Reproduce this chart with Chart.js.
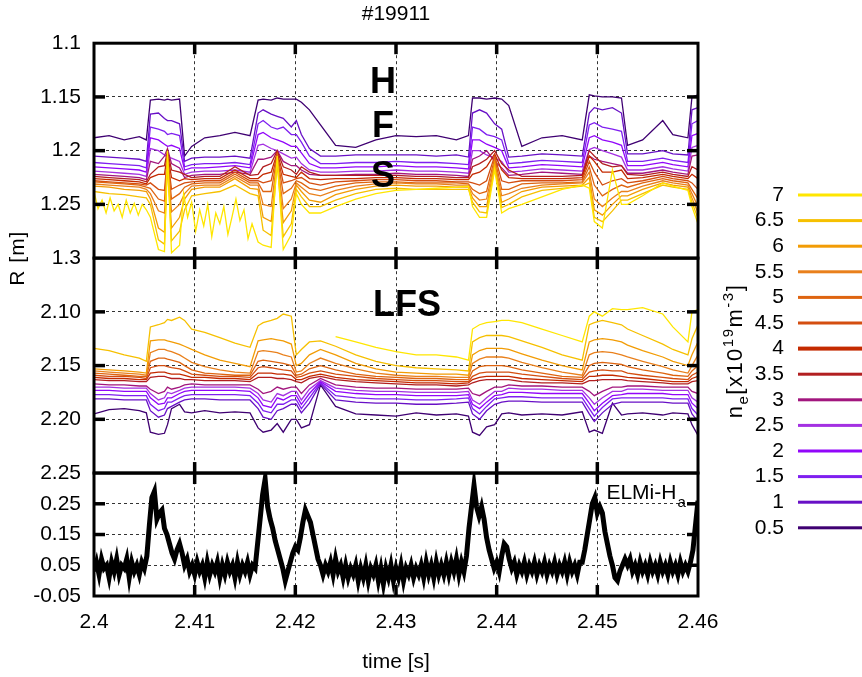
<!DOCTYPE html>
<html lang="en">
<head>
<meta charset="UTF-8">
<title>#19911</title>
<style>
  html, body { margin: 0; background: #fff; }
  .chart-container { position: relative; width: 862px; height: 677px; }
</style>
</head>
<body>
<script src="https://cdn.jsdelivr.net/npm/chart.js@4.4.1/dist/chart.umd.min.js"></script>
<div class="chart-container"><canvas id="profiles"></canvas></div>
<script>
const FONT = "'Liberation Sans', Arial, Helvetica, sans-serif";

// density layers n_e [x10^19 m^-3], listed as in the key (highest first)
const levels = ['7', '6.5', '6', '5.5', '5', '4.5', '4', '3.5', '3', '2.5', '2', '1.5', '1', '0.5'];
const levelColors = ['#ffe600', '#f6c000', '#f29c05', '#e9801c', '#de6410', '#d44e10', '#c42a00',
                     '#b21f20', '#a2167e', '#a431e2', '#9206fa', '#7f1ff0', '#6810c6', '#3f0072'];

const xTicks = [2.4, 2.41, 2.42, 2.43, 2.44, 2.45, 2.46];
const hfsTicks = [1.1, 1.15, 1.2, 1.25, 1.3];
const lfsTicks = [2.05, 2.1, 2.15, 2.2, 2.25];
const elmTicks = [-0.05, 0.05, 0.15, 0.25, 0.35];

// profile sample times [s]
const time = [2.4000, 2.4015, 2.4030, 2.4045, 2.4052,
              2.4056, 2.4064, 2.4070, 2.4073, 2.4077, 2.4085,
              2.4090, 2.4097, 2.4110, 2.4125, 2.4140, 2.4155,
              2.4163, 2.4168, 2.4176, 2.4182, 2.4188, 2.4196,
              2.4201, 2.4206, 2.4214,
              2.4225, 2.4240, 2.4260, 2.4280, 2.4300, 2.4320, 2.4340, 2.4360, 2.4372,
              2.4376, 2.4383, 2.4390, 2.4398, 2.4405,
              2.4412, 2.4425, 2.4445, 2.4465, 2.4485,
              2.4492, 2.4497, 2.4505, 2.4515, 2.4524,
              2.4530, 2.4545, 2.4565, 2.4575, 2.4590,
              2.4594, 2.4600];

// the noisy 7e19 HFS layer is sampled more finely in the quiet phases
const hfs7Time = [2.4000, 2.4004, 2.4008, 2.4012, 2.4016, 2.4020, 2.4024, 2.4028, 2.4032, 2.4036, 2.4040, 2.4044, 2.4048, 2.4052,
                  2.4056, 2.4064, 2.4070, 2.4073, 2.4077, 2.4085,
                  2.4089, 2.4093, 2.4097, 2.4101, 2.4105, 2.4109, 2.4113, 2.4117, 2.4121, 2.4125, 2.4129, 2.4133, 2.4137, 2.4141, 2.4145, 2.4149, 2.4153, 2.4157,
                  2.4163, 2.4168, 2.4176, 2.4182, 2.4188, 2.4196,
                  2.4201, 2.4206, 2.4214,
                  2.4225, 2.4240, 2.4260, 2.4280, 2.4300, 2.4320, 2.4340, 2.4360, 2.4372,
                  2.4376, 2.4383, 2.4390, 2.4398, 2.4405,
                  2.4412, 2.4425, 2.4445, 2.4465, 2.4485,
                  2.4492, 2.4497, 2.4505, 2.4515, 2.4524,
                  2.4530, 2.4545, 2.4565, 2.4575, 2.4590,
                  2.4594, 2.4600];

// HFS layer radius R [m]
const hfs_7   = [1.238, 1.254, 1.246, 1.258, 1.244, 1.256, 1.250, 1.262, 1.246, 1.258, 1.249, 1.260, 1.250, 1.255,
                 1.262, 1.292, 1.294, 1.200, 1.295, 1.288,
                 1.240, 1.262, 1.248, 1.275, 1.255, 1.270, 1.250, 1.280, 1.258, 1.268, 1.252, 1.278, 1.262, 1.245, 1.265, 1.255, 1.282, 1.268,
                 1.285, 1.288, 1.290, 1.205, 1.292, 1.278,
                 1.240, 1.250, 1.258,
                 1.258, 1.252, 1.245, 1.240, 1.237, 1.236, 1.235, 1.234, 1.233,
                 1.252, 1.262, 1.262, 1.218, 1.258,
                 1.254, 1.250, 1.243, 1.236, 1.232,
                 1.235, 1.266, 1.272, 1.218, 1.250,
                 1.250, 1.242, 1.230, 1.233, 1.237,
                 1.252, 1.268];
const hfs_6_5 = [1.238, 1.240, 1.241, 1.243, 1.244, 1.250, 1.283, 1.287, 1.212, 1.284, 1.275, 1.255, 1.242, 1.240, 1.238, 1.232, 1.240, 1.242, 1.274, 1.279, 1.212, 1.280, 1.268, 1.236, 1.243, 1.252,
                 1.252, 1.246, 1.240, 1.236, 1.235, 1.236, 1.236, 1.236, 1.236, 1.248, 1.257, 1.258, 1.215, 1.253, 1.250, 1.243, 1.237, 1.235, 1.233, 1.230, 1.262, 1.266, 1.256, 1.246, 1.246, 1.240, 1.232, 1.234, 1.236, 1.248, 1.263];
const hfs_6   = [1.233, 1.234, 1.236, 1.237, 1.238, 1.245, 1.272, 1.276, 1.210, 1.272, 1.262, 1.245, 1.236, 1.234, 1.234, 1.226, 1.235, 1.236, 1.262, 1.266, 1.210, 1.267, 1.256, 1.232, 1.238, 1.246,
                 1.248, 1.241, 1.236, 1.233, 1.232, 1.233, 1.233, 1.234, 1.234, 1.244, 1.252, 1.252, 1.212, 1.248, 1.245, 1.238, 1.234, 1.233, 1.232, 1.225, 1.255, 1.260, 1.250, 1.242, 1.242, 1.236, 1.230, 1.232, 1.234, 1.244, 1.258];
const hfs_5_5 = [1.231, 1.232, 1.233, 1.234, 1.236, 1.240, 1.256, 1.258, 1.208, 1.257, 1.250, 1.240, 1.233, 1.232, 1.232, 1.224, 1.232, 1.232, 1.250, 1.252, 1.207, 1.254, 1.245, 1.230, 1.234, 1.240,
                 1.242, 1.237, 1.233, 1.231, 1.230, 1.231, 1.231, 1.232, 1.232, 1.240, 1.246, 1.245, 1.210, 1.242, 1.240, 1.235, 1.232, 1.231, 1.230, 1.220, 1.245, 1.252, 1.244, 1.238, 1.238, 1.233, 1.228, 1.230, 1.232, 1.240, 1.252];
const hfs_5   = [1.229, 1.230, 1.231, 1.232, 1.234, 1.235, 1.245, 1.247, 1.205, 1.245, 1.240, 1.234, 1.231, 1.230, 1.230, 1.222, 1.230, 1.230, 1.238, 1.238, 1.205, 1.240, 1.235, 1.228, 1.230, 1.235,
                 1.237, 1.233, 1.230, 1.229, 1.229, 1.230, 1.230, 1.230, 1.231, 1.236, 1.240, 1.238, 1.207, 1.236, 1.236, 1.231, 1.230, 1.230, 1.229, 1.215, 1.232, 1.242, 1.236, 1.232, 1.234, 1.230, 1.226, 1.228, 1.230, 1.236, 1.245];
const hfs_4_5 = [1.228, 1.229, 1.230, 1.231, 1.232, 1.230, 1.236, 1.237, 1.205, 1.236, 1.232, 1.230, 1.229, 1.228, 1.228, 1.220, 1.228, 1.228, 1.230, 1.228, 1.203, 1.230, 1.228, 1.226, 1.225, 1.230,
                 1.232, 1.229, 1.228, 1.227, 1.227, 1.228, 1.228, 1.229, 1.229, 1.230, 1.232, 1.228, 1.205, 1.228, 1.230, 1.228, 1.228, 1.228, 1.227, 1.210, 1.220, 1.232, 1.228, 1.226, 1.230, 1.228, 1.224, 1.226, 1.228, 1.230, 1.236];
const hfs_4   = [1.226, 1.227, 1.228, 1.229, 1.231, 1.225, 1.222, 1.222, 1.203, 1.225, 1.228, 1.226, 1.227, 1.226, 1.226, 1.218, 1.226, 1.226, 1.222, 1.220, 1.202, 1.222, 1.224, 1.225, 1.220, 1.226,
                 1.227, 1.226, 1.226, 1.225, 1.225, 1.226, 1.226, 1.227, 1.227, 1.222, 1.220, 1.215, 1.203, 1.218, 1.225, 1.226, 1.226, 1.226, 1.225, 1.205, 1.210, 1.220, 1.220, 1.218, 1.226, 1.225, 1.222, 1.224, 1.226, 1.222, 1.226];
const hfs_3_5 = [1.224, 1.225, 1.226, 1.227, 1.229, 1.222, 1.215, 1.214, 1.200, 1.218, 1.220, 1.222, 1.225, 1.224, 1.224, 1.215, 1.223, 1.222, 1.215, 1.212, 1.200, 1.215, 1.218, 1.222, 1.215, 1.220,
                 1.223, 1.223, 1.223, 1.223, 1.223, 1.224, 1.224, 1.225, 1.225, 1.215, 1.212, 1.208, 1.200, 1.212, 1.218, 1.224, 1.224, 1.224, 1.223, 1.200, 1.205, 1.212, 1.215, 1.214, 1.222, 1.223, 1.220, 1.222, 1.224, 1.215, 1.218];
const hfs_3   = [1.222, 1.223, 1.224, 1.225, 1.227, 1.210, 1.212, 1.205, 1.198, 1.212, 1.216, 1.225, 1.223, 1.222, 1.222, 1.220, 1.222, 1.208, 1.208, 1.206, 1.200, 1.210, 1.214, 1.214, 1.218, 1.222,
                 1.223, 1.223, 1.222, 1.222, 1.221, 1.222, 1.222, 1.223, 1.224, 1.208, 1.205, 1.200, 1.210, 1.216, 1.223, 1.222, 1.220, 1.221, 1.222, 1.205, 1.208, 1.210, 1.212, 1.214, 1.221, 1.221, 1.218, 1.220, 1.222, 1.205, 1.204];
const hfs_2_5 = [1.219, 1.220, 1.221, 1.222, 1.224, 1.198, 1.200, 1.204, 1.206, 1.207, 1.210, 1.222, 1.220, 1.219, 1.219, 1.218, 1.220, 1.195, 1.194, 1.198, 1.200, 1.203, 1.207, 1.206, 1.212, 1.218,
                 1.220, 1.220, 1.219, 1.219, 1.218, 1.219, 1.219, 1.220, 1.221, 1.200, 1.200, 1.204, 1.207, 1.210, 1.220, 1.219, 1.217, 1.218, 1.219, 1.199, 1.197, 1.200, 1.203, 1.206, 1.218, 1.218, 1.215, 1.217, 1.219, 1.197, 1.195];
const hfs_2   = [1.215, 1.216, 1.217, 1.218, 1.220, 1.188, 1.190, 1.194, 1.196, 1.195, 1.198, 1.218, 1.216, 1.216, 1.215, 1.214, 1.216, 1.185, 1.183, 1.188, 1.190, 1.192, 1.196, 1.196, 1.202, 1.212,
                 1.216, 1.216, 1.215, 1.215, 1.214, 1.215, 1.215, 1.216, 1.217, 1.190, 1.190, 1.194, 1.197, 1.200, 1.216, 1.215, 1.213, 1.214, 1.215, 1.188, 1.186, 1.190, 1.192, 1.195, 1.214, 1.214, 1.211, 1.213, 1.215, 1.186, 1.184];
const hfs_1_5 = [1.211, 1.212, 1.213, 1.214, 1.216, 1.178, 1.180, 1.182, 1.185, 1.184, 1.186, 1.215, 1.213, 1.212, 1.212, 1.211, 1.213, 1.175, 1.172, 1.178, 1.180, 1.178, 1.185, 1.185, 1.192, 1.205,
                 1.212, 1.212, 1.211, 1.211, 1.210, 1.211, 1.211, 1.212, 1.213, 1.178, 1.180, 1.185, 1.187, 1.190, 1.212, 1.211, 1.209, 1.210, 1.211, 1.176, 1.174, 1.178, 1.180, 1.182, 1.210, 1.210, 1.207, 1.209, 1.211, 1.175, 1.172];
const hfs_1   = [1.205, 1.206, 1.207, 1.208, 1.210, 1.166, 1.165, 1.170, 1.172, 1.172, 1.175, 1.210, 1.207, 1.206, 1.206, 1.205, 1.207, 1.165, 1.162, 1.166, 1.168, 1.170, 1.178, 1.172, 1.185, 1.198,
                 1.205, 1.205, 1.204, 1.204, 1.204, 1.204, 1.205, 1.204, 1.206, 1.165, 1.162, 1.165, 1.175, 1.180, 1.206, 1.205, 1.203, 1.204, 1.205, 1.165, 1.160, 1.162, 1.160, 1.165, 1.203, 1.203, 1.200, 1.203, 1.204, 1.162, 1.160];
const hfs_0_5 = [1.188, 1.186, 1.190, 1.187, 1.190, 1.153, 1.152, 1.153, 1.152, 1.153, 1.152, 1.205, 1.196, 1.188, 1.186, 1.183, 1.186, 1.153, 1.152, 1.153, 1.151, 1.152, 1.152, 1.152, 1.155, 1.162,
                 1.176, 1.195, 1.197, 1.190, 1.186, 1.187, 1.186, 1.190, 1.186, 1.151, 1.151, 1.152, 1.151, 1.152, 1.158, 1.196, 1.188, 1.186, 1.190, 1.148, 1.149, 1.150, 1.150, 1.151, 1.195, 1.190, 1.172, 1.185, 1.188, 1.150, 1.148];

// LFS layer radius R [m]; the 7e19 layer is not measured before ~2.424 s
const lfs_7   = [null, null, null, null, null, null, null, null, null, null, null, null, null, null, null, null, null, null, null, null, null, null, null, null, null, null,
                 null, 2.123, 2.128, 2.133, 2.137, 2.140, 2.140, 2.142, 2.145, 2.116, 2.112, 2.110, 2.109, 2.108, 2.108, 2.110, 2.116, 2.122, 2.128, 2.104, 2.100, 2.104, 2.097, 2.098, 2.098, 2.096, 2.102, 2.114, 2.128, 2.100, 2.098];
const lfs_6_5 = [2.134, 2.136, 2.140, 2.143, 2.146, 2.114, 2.112, 2.110, 2.107, 2.108, 2.105, 2.108, 2.116, 2.119, 2.124, 2.129, 2.133, 2.113, 2.110, 2.108, 2.106, 2.102, 2.104, 2.140, 2.135, 2.128,
                 2.127, 2.132, 2.140, 2.146, 2.150, 2.152, 2.153, 2.154, 2.155, 2.128, 2.124, 2.122, 2.122, 2.122, 2.123, 2.127, 2.133, 2.140, 2.145, 2.112, 2.110, 2.108, 2.110, 2.112, 2.116, 2.122, 2.130, 2.135, 2.140, 2.125, 2.112];
const lfs_6   = [2.153, 2.154, 2.155, 2.156, 2.157, 2.127, 2.126, 2.126, 2.127, 2.128, 2.130, 2.132, 2.135, 2.140, 2.145, 2.148, 2.151, 2.127, 2.126, 2.125, 2.126, 2.127, 2.130, 2.150, 2.148, 2.140,
                 2.135, 2.140, 2.148, 2.153, 2.156, 2.157, 2.158, 2.158, 2.159, 2.140, 2.136, 2.134, 2.134, 2.134, 2.135, 2.139, 2.145, 2.150, 2.154, 2.128, 2.126, 2.125, 2.126, 2.128, 2.131, 2.136, 2.142, 2.146, 2.150, 2.140, 2.128];
const lfs_5_5 = [2.155, 2.156, 2.157, 2.158, 2.159, 2.138, 2.135, 2.135, 2.136, 2.137, 2.140, 2.143, 2.147, 2.151, 2.154, 2.156, 2.157, 2.137, 2.136, 2.137, 2.138, 2.140, 2.142, 2.156, 2.155, 2.148,
                 2.143, 2.148, 2.153, 2.157, 2.159, 2.160, 2.160, 2.161, 2.161, 2.148, 2.144, 2.142, 2.142, 2.142, 2.143, 2.147, 2.152, 2.156, 2.159, 2.140, 2.138, 2.137, 2.138, 2.140, 2.142, 2.146, 2.151, 2.154, 2.157, 2.150, 2.140];
const lfs_5   = [2.157, 2.158, 2.159, 2.160, 2.160, 2.146, 2.143, 2.143, 2.144, 2.145, 2.147, 2.150, 2.154, 2.157, 2.158, 2.159, 2.159, 2.146, 2.145, 2.146, 2.147, 2.148, 2.150, 2.159, 2.158, 2.153,
                 2.150, 2.154, 2.158, 2.160, 2.161, 2.162, 2.162, 2.163, 2.163, 2.155, 2.151, 2.150, 2.150, 2.150, 2.151, 2.154, 2.157, 2.160, 2.161, 2.150, 2.148, 2.147, 2.148, 2.149, 2.151, 2.154, 2.157, 2.159, 2.160, 2.155, 2.150];
const lfs_4_5 = [2.159, 2.160, 2.160, 2.161, 2.162, 2.152, 2.150, 2.150, 2.151, 2.152, 2.153, 2.155, 2.158, 2.159, 2.160, 2.160, 2.161, 2.152, 2.151, 2.152, 2.153, 2.154, 2.155, 2.161, 2.160, 2.157,
                 2.155, 2.158, 2.160, 2.162, 2.163, 2.164, 2.164, 2.165, 2.165, 2.160, 2.157, 2.156, 2.156, 2.156, 2.156, 2.158, 2.160, 2.162, 2.163, 2.156, 2.155, 2.154, 2.155, 2.155, 2.157, 2.159, 2.161, 2.162, 2.163, 2.159, 2.156];
const lfs_4   = [2.161, 2.162, 2.162, 2.163, 2.163, 2.157, 2.156, 2.156, 2.157, 2.158, 2.158, 2.159, 2.161, 2.161, 2.162, 2.162, 2.163, 2.157, 2.157, 2.157, 2.158, 2.158, 2.159, 2.163, 2.163, 2.160,
                 2.158, 2.161, 2.163, 2.164, 2.165, 2.166, 2.166, 2.167, 2.166, 2.163, 2.161, 2.160, 2.160, 2.160, 2.160, 2.162, 2.163, 2.164, 2.165, 2.160, 2.160, 2.159, 2.159, 2.160, 2.161, 2.162, 2.164, 2.165, 2.165, 2.162, 2.160];
const lfs_3_5 = [2.163, 2.164, 2.164, 2.165, 2.165, 2.161, 2.160, 2.160, 2.161, 2.162, 2.162, 2.163, 2.163, 2.164, 2.164, 2.164, 2.165, 2.161, 2.161, 2.161, 2.162, 2.162, 2.163, 2.165, 2.166, 2.162,
                 2.160, 2.163, 2.165, 2.166, 2.167, 2.168, 2.168, 2.169, 2.168, 2.166, 2.164, 2.163, 2.163, 2.163, 2.163, 2.165, 2.166, 2.166, 2.167, 2.164, 2.164, 2.163, 2.163, 2.163, 2.164, 2.165, 2.166, 2.167, 2.167, 2.165, 2.164];
const lfs_3   = [2.167, 2.168, 2.168, 2.169, 2.169, 2.172, 2.176, 2.174, 2.170, 2.172, 2.170, 2.168, 2.167, 2.168, 2.168, 2.168, 2.168, 2.172, 2.176, 2.174, 2.170, 2.172, 2.170, 2.170, 2.176, 2.168,
                 2.162, 2.168, 2.170, 2.171, 2.171, 2.172, 2.172, 2.172, 2.171, 2.176, 2.178, 2.174, 2.170, 2.170, 2.168, 2.169, 2.169, 2.170, 2.170, 2.174, 2.178, 2.174, 2.170, 2.170, 2.169, 2.169, 2.170, 2.170, 2.170, 2.174, 2.176];
const lfs_2_5 = [2.170, 2.170, 2.171, 2.171, 2.171, 2.176, 2.182, 2.180, 2.175, 2.176, 2.173, 2.171, 2.170, 2.170, 2.170, 2.170, 2.171, 2.176, 2.182, 2.184, 2.176, 2.178, 2.174, 2.174, 2.182, 2.172,
                 2.164, 2.171, 2.173, 2.174, 2.174, 2.175, 2.175, 2.175, 2.174, 2.182, 2.186, 2.180, 2.174, 2.174, 2.171, 2.172, 2.172, 2.173, 2.173, 2.180, 2.186, 2.180, 2.174, 2.174, 2.172, 2.172, 2.173, 2.173, 2.173, 2.180, 2.184];
const lfs_2   = [2.173, 2.173, 2.174, 2.174, 2.174, 2.180, 2.186, 2.185, 2.180, 2.180, 2.176, 2.174, 2.173, 2.173, 2.173, 2.173, 2.174, 2.180, 2.187, 2.189, 2.180, 2.182, 2.178, 2.178, 2.186, 2.176,
                 2.165, 2.174, 2.176, 2.177, 2.177, 2.178, 2.178, 2.178, 2.177, 2.186, 2.190, 2.184, 2.178, 2.177, 2.175, 2.175, 2.176, 2.176, 2.176, 2.185, 2.192, 2.185, 2.178, 2.177, 2.176, 2.176, 2.176, 2.177, 2.177, 2.185, 2.190];
const lfs_1_5 = [2.177, 2.177, 2.178, 2.178, 2.178, 2.186, 2.192, 2.190, 2.184, 2.184, 2.180, 2.178, 2.177, 2.177, 2.177, 2.177, 2.178, 2.185, 2.192, 2.194, 2.186, 2.186, 2.182, 2.182, 2.190, 2.180,
                 2.166, 2.178, 2.180, 2.181, 2.181, 2.182, 2.182, 2.181, 2.180, 2.190, 2.195, 2.188, 2.181, 2.180, 2.179, 2.179, 2.180, 2.180, 2.180, 2.190, 2.197, 2.189, 2.181, 2.180, 2.180, 2.180, 2.180, 2.181, 2.181, 2.190, 2.196];
const lfs_1   = [2.181, 2.181, 2.182, 2.182, 2.182, 2.192, 2.198, 2.196, 2.190, 2.188, 2.184, 2.182, 2.181, 2.181, 2.182, 2.182, 2.182, 2.190, 2.198, 2.200, 2.192, 2.190, 2.186, 2.186, 2.194, 2.185,
                 2.167, 2.182, 2.184, 2.185, 2.185, 2.186, 2.186, 2.185, 2.184, 2.195, 2.200, 2.192, 2.186, 2.184, 2.183, 2.183, 2.184, 2.184, 2.184, 2.195, 2.202, 2.194, 2.186, 2.184, 2.184, 2.184, 2.184, 2.185, 2.185, 2.195, 2.202];
const lfs_0_5 = [2.195, 2.191, 2.190, 2.192, 2.194, 2.212, 2.214, 2.213, 2.205, 2.190, 2.186, 2.193, 2.194, 2.192, 2.194, 2.193, 2.194, 2.208, 2.212, 2.210, 2.204, 2.212, 2.200, 2.200, 2.208, 2.205,
                 2.168, 2.188, 2.195, 2.196, 2.197, 2.194, 2.196, 2.195, 2.197, 2.212, 2.215, 2.207, 2.205, 2.195, 2.194, 2.196, 2.195, 2.196, 2.193, 2.212, 2.210, 2.213, 2.185, 2.196, 2.195, 2.194, 2.196, 2.194, 2.195, 2.205, 2.215];

// ELM monitor H-alpha [a.u.], one sample every 0.25 ms from 2.4 s
const elmStart = 2.4;
const elmStep = 0.00025;
const elmHa = [
  0.03, 0.06, 0.02, 0.07, 0.04, 0.05, 0.01, 0.06, 0.03, 0.07, 0.02, 0.05, 0.04, 0.07, 0.01, 0.06, 0.03, 0.05, 0.02, 0.06,
  0.04, 0.08, 0.18, 0.27, 0.29, 0.20, 0.22, 0.23, 0.17, 0.15, 0.12, 0.09, 0.07, 0.10, 0.12, 0.09, 0.05, 0.07, 0.03, 0.05,
  0.02, 0.06, 0.03, 0.05, 0.01, 0.06, 0.02, 0.05, 0.03, 0.06, 0.01, 0.05, 0.02, 0.06, 0.03, 0.05, 0.01, 0.06, 0.02, 0.05,
  0.03, 0.06, 0.02, 0.05, 0.04, 0.12, 0.20, 0.28, 0.33, 0.24, 0.20, 0.17, 0.13, 0.10, 0.07, 0.04, 0.00, 0.03, 0.06, 0.09,
  0.11, 0.10, 0.14, 0.19, 0.23, 0.21, 0.19, 0.15, 0.11, 0.07, 0.05, 0.02, 0.05, 0.03, 0.06, 0.02, 0.07, 0.03, 0.05, 0.01,
  0.05, 0.01, 0.04, 0.02, 0.05, 0.00, 0.04, 0.01, 0.05, 0.00, 0.04, 0.02, 0.05, 0.00, 0.04, -0.01, 0.04, 0.01, 0.05, 0.00,
  0.04, 0.01, 0.05, 0.00, 0.04, 0.02, 0.05, 0.01, 0.04, 0.02, 0.05, 0.01, 0.06, 0.02, 0.05, 0.01, 0.06, 0.02, 0.05, 0.02,
  0.06, 0.02, 0.06, 0.03, 0.07, 0.02, 0.06, 0.03, 0.08, 0.17, 0.24, 0.31, 0.24, 0.21, 0.24, 0.20, 0.14, 0.10, 0.07, 0.04,
  0.06, 0.03, 0.08, 0.12, 0.11, 0.07, 0.04, 0.06, 0.02, 0.05, 0.03, 0.06, 0.02, 0.05, 0.03, 0.06, 0.02, 0.05, 0.03, 0.06,
  0.02, 0.05, 0.03, 0.06, 0.02, 0.05, 0.03, 0.06, 0.02, 0.06, 0.03, 0.05, 0.02, 0.06, 0.06, 0.10, 0.15, 0.20, 0.25, 0.27,
  0.22, 0.24, 0.22, 0.16, 0.12, 0.08, 0.05, 0.01, 0.00, 0.03, 0.05, 0.07, 0.05, 0.07, 0.03, 0.05, 0.02, 0.06, 0.03, 0.05,
  0.02, 0.06, 0.03, 0.05, 0.02, 0.06, 0.03, 0.05, 0.02, 0.06, 0.03, 0.05, 0.02, 0.06, 0.03, 0.05, 0.03, 0.06, 0.10, 0.18,
  0.26
];

const hfsSeries = [hfs_7, hfs_6_5, hfs_6, hfs_5_5, hfs_5, hfs_4_5, hfs_4, hfs_3_5, hfs_3, hfs_2_5, hfs_2, hfs_1_5, hfs_1, hfs_0_5];
const hfsTimes = hfsSeries.map((s, i) => i === 0 ? hfs7Time : time);
const lfsSeries = [lfs_7, lfs_6_5, lfs_6, lfs_5_5, lfs_5, lfs_4_5, lfs_4, lfs_3_5, lfs_3, lfs_2_5, lfs_2, lfs_1_5, lfs_1, lfs_0_5];

Chart.defaults.font.family = FONT;
Chart.defaults.font.size = 21;
Chart.defaults.color = '#000';

const datasets = [];
levels.forEach((lv, i) => {
    datasets.push({
        label: lv, yAxisID: 'hfs',
        data: hfsSeries[i].map((r, k) => ({x: hfsTimes[i][k], y: r})),
        borderColor: levelColors[i], backgroundColor: levelColors[i], borderWidth: 1.3
    });
});
levels.forEach((lv, i) => {
    datasets.push({
        label: 'LFS ' + lv, yAxisID: 'lfs',
        data: lfsSeries[i].map((r, k) => ({x: time[k], y: r})),
        borderColor: levelColors[i], backgroundColor: levelColors[i], borderWidth: 1.3
    });
});
datasets.push({
    label: 'ELMi-Ha', yAxisID: 'elm',
    data: elmHa.map((v, k) => ({x: elmStart + k * elmStep, y: v})),
    borderColor: '#000', backgroundColor: '#000', borderWidth: 5
});

const gridStyle = {color: '#333', lineWidth: 1, drawTicks: false};
const noBorder = {display: false, dash: [3, 3]};

function yPanel(ticks, weight, stackWeight, reverse, label) {
    return {
        type: 'linear', axis: 'y', position: 'left', stack: 'R', stackWeight: stackWeight, weight: weight,
        reverse: reverse, min: ticks[0], max: ticks[ticks.length - 1],
        afterBuildTicks: s => { s.ticks = ticks.map(v => ({value: v})); },
        afterFit: s => { s.width = 94; },
        ticks: {padding: 13, autoSkip: false, callback: label},
        grid: gridStyle, border: noBorder
    };
}

function richText(ctx, parts) {
    let total = 0;
    parts.forEach(p => { ctx.font = p[1] + 'px ' + FONT; total += ctx.measureText(p[0]).width; });
    let cx = -total / 2;
    parts.forEach(p => {
        ctx.font = p[1] + 'px ' + FONT;
        ctx.fillText(p[0], cx, p[2]);
        cx += ctx.measureText(p[0]).width;
    });
}

const panelDecor = {
    id: 'panelDecor',
    afterDatasetsDraw(chart) {
        const {ctx, chartArea: a, scales} = chart;
        const x = scales.x;
        const panels = [[scales.hfs, hfsTicks], [scales.lfs, lfsTicks], [scales.elm, elmTicks]];
        const seg = (x1, y1, x2, y2) => { ctx.beginPath(); ctx.moveTo(x1, y1); ctx.lineTo(x2, y2); ctx.stroke(); };
        ctx.save();
        ctx.strokeStyle = '#000';
        ctx.lineWidth = 3.5;
        panels.forEach(([s, ticks]) => {
            ticks.forEach(v => {
                const y = s.getPixelForValue(v);
                if (y <= s.top + 1 || y >= s.bottom - 1) return;
                seg(a.left, y, a.left + 11, y);
                seg(a.right - 11, y, a.right, y);
            });
            xTicks.forEach(v => {
                const px = x.getPixelForValue(v);
                if (px <= a.left + 1 || px >= a.right - 1) return;
                seg(px, s.top, px, s.top + 11);
                seg(px, s.bottom - 11, px, s.bottom);
            });
        });
        ctx.lineWidth = 3;
        panels.forEach(([s]) => ctx.strokeRect(a.left, s.top, a.right - a.left, s.bottom - s.top));

        // panel labels
        ctx.fillStyle = '#000';
        ctx.textAlign = 'center';
        ctx.textBaseline = 'middle';
        ctx.font = 'bold 36px ' + FONT;
        [['H', 1.137], ['F', 1.178], ['S', 1.2247]].forEach(([t, r]) => {
            ctx.fillText(t, x.getPixelForValue(2.4287), scales.hfs.getPixelForValue(r));
        });
        ctx.fillText('LFS', x.getPixelForValue(2.4311), scales.lfs.getPixelForValue(2.0947));

        ctx.textAlign = 'left';
        ctx.textBaseline = 'alphabetic';
        const ex = x.getPixelForValue(2.4509), ey = scales.elm.getPixelForValue(0.265);
        ctx.font = '21px ' + FONT;
        ctx.fillText('ELMi-H', ex, ey);
        const ew = ctx.measureText('ELMi-H').width;
        ctx.font = '15px ' + FONT;
        ctx.fillText('a', ex + ew + 1, ey + 8);

        // density key, one entry per HFS layer
        ctx.textAlign = 'right';
        ctx.textBaseline = 'middle';
        ctx.font = '21px ' + FONT;
        chart.data.datasets.filter(d => d.yAxisID === 'hfs').forEach((d, i) => {
            const ky = 195 + i * 25.6;
            ctx.fillStyle = '#000';
            ctx.fillText(d.label, a.right + 86, ky);
            ctx.fillStyle = d.borderColor;
            const h = d.label === '4' ? 4 : 3;
            ctx.fillRect(a.right + 100, ky - h / 2, 64, h);
        });
        ctx.fillStyle = '#000';

        // rotated axis labels
        ctx.textAlign = 'left';
        ctx.textBaseline = 'alphabetic';
        ctx.save();
        ctx.translate(24, scales.hfs.bottom);
        ctx.rotate(-Math.PI / 2);
        ctx.letterSpacing = '1px';
        richText(ctx, [['R [m]', 21, 0]]);
        ctx.restore();

        ctx.save();
        ctx.translate(a.right + 44, 351);
        ctx.rotate(-Math.PI / 2);
        ctx.letterSpacing = '1.5px';
        richText(ctx, [['n', 22, 0], ['e', 15, 6], ['[x10', 22, 0], ['19', 15, -9], ['m', 22, 0], ['-3', 15, -9], [']', 22, 0]]);
        ctx.restore();

        ctx.restore();
    }
};

new Chart(document.getElementById('profiles'), {
    type: 'line',
    data: {datasets: datasets},
    options: {
        responsive: true,
        maintainAspectRatio: false,
        animation: false,
        devicePixelRatio: 1,
        layout: {padding: 0},
        elements: {point: {radius: 0}, line: {tension: 0, fill: false}},
        scales: {
            x: {
                type: 'linear', position: 'bottom', min: 2.4, max: 2.46,
                afterBuildTicks: s => { s.ticks = xTicks.map(v => ({value: v})); },
                afterFit: s => { s.height = 81; },
                ticks: {padding: 14, maxRotation: 0, autoSkip: false, callback: v => String(+v.toFixed(2))},
                grid: gridStyle, border: noBorder,
                title: {display: true, text: 'time [s]', padding: {top: 4, bottom: 2}}
            },
            hfs: yPanel(hfsTicks, 3, 215, true, v => String(+v.toFixed(2))),
            lfs: yPanel(lfsTicks, 2, 215, true, v => Math.abs(v - 2.05) < 1e-9 ? '' : v.toFixed(2)),
            elm: yPanel(elmTicks, 1, 123, false, v => Math.abs(v - 0.35) < 1e-9 ? '' : v.toFixed(2)),
            side: {
                type: 'linear', axis: 'y', position: 'right',
                ticks: {display: false}, grid: {display: false}, border: {display: false},
                afterFit: s => { s.width = 164; }
            }
        },
        plugins: {
            tooltip: {enabled: false},
            legend: {display: false},
            title: {
                display: true, text: '#19911', fullSize: false,
                font: {size: 21, weight: 'normal'}, padding: {top: 2, bottom: 16}
            }
        }
    },
    plugins: [panelDecor]
});
</script>
</body>
</html>
